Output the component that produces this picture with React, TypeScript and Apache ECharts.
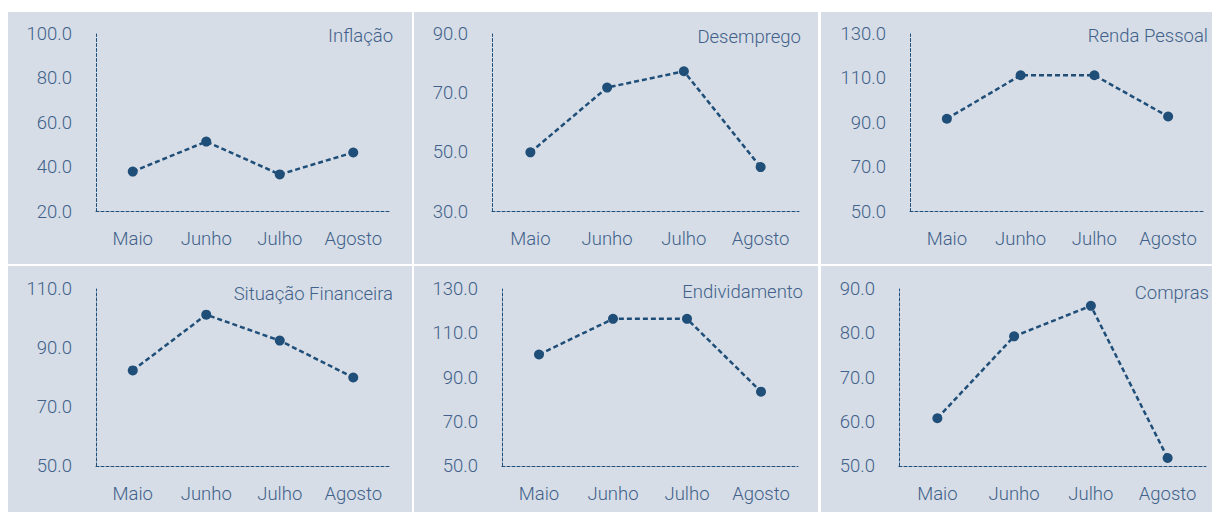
import React, { useEffect, useRef } from "react";
import * as echarts from "echarts";

const months = ["Maio", "Junho", "Julho", "Agosto"];
const titles = ["Inflação", "Desemprego", "Renda Pessoal", "Situação Financeira", "Endividamento", "Compras"];
const inflacao = [38.0, 51.5, 36.7, 46.6];
const desemprego = [50.0, 71.9, 77.4, 45.0];
const rendaPessoal = [91.8, 111.4, 111.4, 92.8];
const situacaoFinanceira = [82.4, 101.3, 92.5, 80.0];
const endividamento = [100.4, 116.5, 116.5, 83.6];
const compras = [60.8, 79.3, 86.2, 51.8];
const yMins = [20, 30, 50, 50, 50, 50];
const yMaxs = [100, 90, 130, 110, 130, 90];
const yIntervals = [20, 20, 20, 20, 20, 10];

const seriesData = [inflacao, desemprego, rendaPessoal, situacaoFinanceira, endividamento, compras];

const BG = "#d6dde6";
const TEXT = "#41618a";
const LINE = "#1f4e79";
const FONT = "Roboto, 'Noto Sans', sans-serif";
const FS = 18.5;
const FW = 300;

const panels = [
  { x: 8, y: 12 },
  { x: 414, y: 12 },
  { x: 821, y: 12 },
  { x: 8, y: 266 },
  { x: 414, y: 266 },
  { x: 821, y: 266 },
];
const grids = [
  { left: 96, width: 294, top: 34, height: 177.5 },
  { left: 492, width: 307, top: 34, height: 177.5 },
  { left: 910, width: 295, top: 34, height: 177.5 },
  { left: 96, width: 294, top: 289, height: 177 },
  { left: 502, width: 296, top: 289, height: 177 },
  { left: 899, width: 307, top: 289, height: 177 },
];
const titlePos = [
  { x: 393, y: 36 },
  { x: 801, y: 37 },
  { x: 1208, y: 36 },
  { x: 393, y: 294 },
  { x: 803, y: 292 },
  { x: 1209, y: 293 },
];

export default function App() {
  const ref = useRef<HTMLDivElement>(null);
  useEffect(() => {
    if (!ref.current) return;
    const chart = echarts.init(ref.current, null, { renderer: "svg" });
    const axisLine = { show: true, lineStyle: { color: LINE, width: 1, type: [3, 2] as any } };
    const graphics: any[] = [];
    panels.forEach((p) => {
      graphics.push({
        type: "rect",
        z: -10,
        silent: true,
        shape: { x: p.x, y: p.y, width: 404, height: 252 },
        style: { fill: BG },
      });
    });
    titlePos.forEach((t, i) => {
      graphics.push({
        type: "text",
        x: t.x,
        y: t.y,
        z: 10,
        style: {
          text: titles[i],
          fill: TEXT,
          font: `${FW} ${FS}px ${FONT}`,
          align: "right",
          verticalAlign: "middle",
        },
      });
    });
    const option: any = {
      animation: false,
      backgroundColor: "#ffffff",
      graphic: graphics,
      grid: grids.map((g) => ({ ...g, containLabel: false })),
      xAxis: grids.map((_, i) => ({
        type: "category",
        gridIndex: i,
        data: months,
        boundaryGap: true,
        axisLine,
        axisTick: { show: false },
        splitLine: { show: false },
        axisLabel: {
          interval: 0,
          hideOverlap: false,
          color: TEXT,
          fontSize: FS,
          fontWeight: FW,
          fontFamily: FONT,
          margin: 18,
        },
      })),
      yAxis: grids.map((_, i) => ({
        type: "value",
        gridIndex: i,
        min: yMins[i],
        max: yMaxs[i],
        interval: yIntervals[i],
        axisLine,
        axisTick: { show: false },
        splitLine: { show: false },
        axisLabel: {
          color: TEXT,
          fontSize: FS,
          fontWeight: FW,
          fontFamily: FONT,
          margin: 24,
          formatter: (v: number) => v.toFixed(1),
        },
      })),
      series: seriesData.map((d, i) => ({
        type: "line",
        xAxisIndex: i,
        yAxisIndex: i,
        data: d,
        symbol: "circle",
        symbolSize: 10,
        itemStyle: { color: LINE },
        lineStyle: { color: LINE, width: 2.5, type: [5, 3] },
      })),
    };
    chart.setOption(option);
    return () => chart.dispose();
  }, []);
  return (
    <div
      ref={ref}
      style={{ position: "absolute", left: 0, top: 0, width: 1212, height: 512 }}
    />
  );
}
